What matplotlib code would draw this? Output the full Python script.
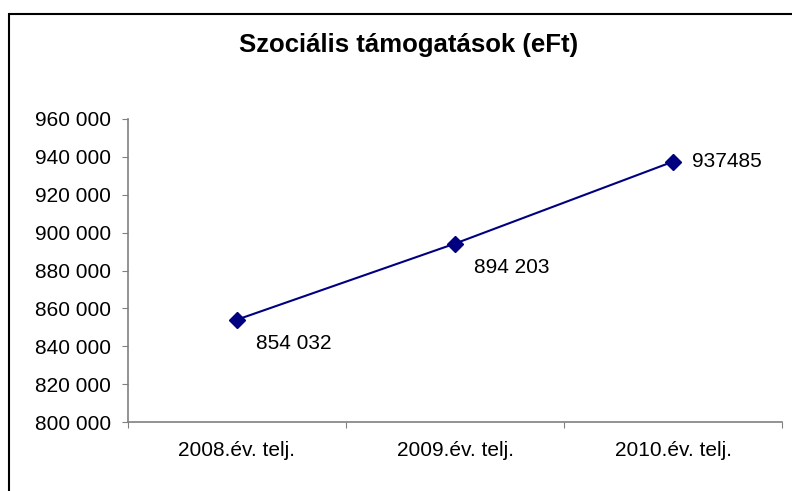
import matplotlib.pyplot as plt
from matplotlib.patches import Rectangle

plt.rcParams['font.family'] = ['Liberation Sans', 'DejaVu Sans']

categories = ['2008.év. telj.', '2009.év. telj.', '2010.év. telj.']
values = [854032, 894203, 937485]
point_labels = ['854 032', '894 203', '937485']
yticks = [800000, 820000, 840000, 860000, 880000, 900000, 920000, 940000, 960000]

W, H = 792, 491
fig = plt.figure(figsize=(W / 100, H / 100), dpi=100)

# outer chart border (Excel style, right/bottom cut off)
fig.patches.append(Rectangle((9 / W, -0.1), 1.2, 1 - 14 / H + 0.1,
                             transform=fig.transFigure, fill=False,
                             edgecolor='black', linewidth=1.5))

ax = fig.add_axes([128 / W, 1 - 422 / H, (782 - 128) / W, (422 - 119) / H])

x = [i + 0.5 for i in range(len(values))]
ax.plot(x, values, color='#000080', linewidth=1.5, marker='D', markersize=8,
        markerfacecolor='#000080', markeredgecolor='#000080')

offsets = [(14, -17), (14, -17), (14, 0)]
for xi, v, lab, off in zip(x, values, point_labels, offsets):
    ax.annotate(lab, (xi, v), xytext=off, textcoords='offset points',
                ha='left', va='center', fontsize=15)

ax.set_xlim(0, 3)
ax.set_ylim(800000, 960000)
ax.set_yticks(yticks)
ax.set_yticklabels(['{:,}'.format(t).replace(',', ' ') for t in yticks], fontsize=15)
ax.set_xticks([0, 1, 2, 3])
ax.set_xticklabels([])
ax.set_xticks(x, minor=True)
ax.set_xticklabels(categories, minor=True, fontsize=15)
ax.tick_params(axis='x', which='minor', length=0, pad=14)
ax.tick_params(axis='x', which='major', length=4, color='#808080')
ax.tick_params(axis='y', length=4, color='#808080', pad=8)

for s in ['top', 'right']:
    ax.spines[s].set_visible(False)
for s in ['left', 'bottom']:
    ax.spines[s].set_color('#808080')
    ax.spines[s].set_linewidth(1.2)

fig.text(409 / W, 1 - 45 / H, 'Szociális támogatások (eFt)', ha='center', va='center',
         fontsize=18.5, fontweight='bold')

fig.savefig('out.png', dpi=100)
